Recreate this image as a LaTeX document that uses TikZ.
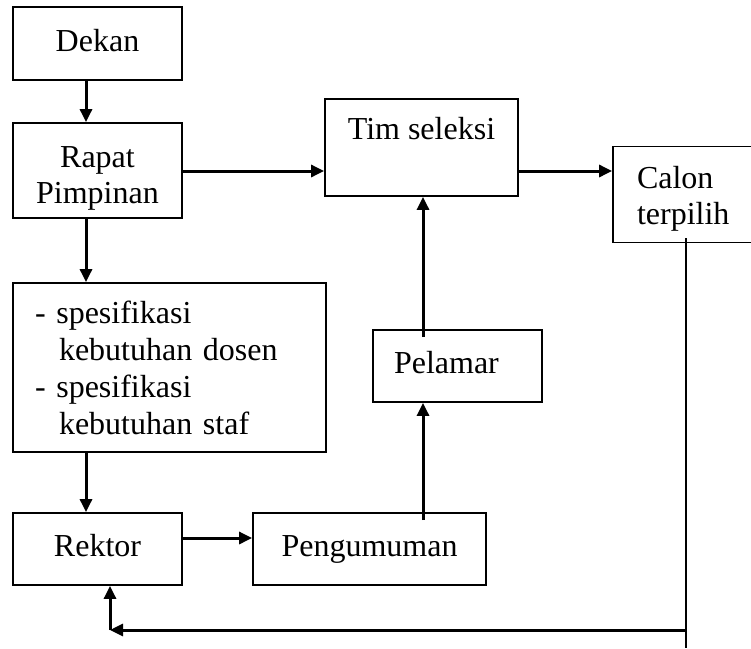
\documentclass[tikz,border=0pt]{standalone}
\usepackage{fontspec}
\setmainfont{Liberation Serif}
\usetikzlibrary{arrows.meta}
\usetikzlibrary{positioning}

\begin{document}
\begin{tikzpicture}[x=1pt, y=-1pt,
    every node/.style={font=\fontsize{32pt}{36pt}\selectfont},
    box/.style={draw, line width=1.8pt, inner sep=0pt},
    oneline/.style={text height=22pt, text depth=7pt},
    flow/.style={line width=3pt, -{Triangle[length=13pt, width=12pt]}},
    feed/.style={line width=2.2pt}]
    \clip (0, 0) rectangle (751, 648);

    \node [box, oneline, minimum width=169pt, minimum height=73pt] (dekan) at (97.5, 43.5) {Dekan};
    \node [box, minimum width=169pt, minimum height=95pt, align=center, text width=160pt,
        text height=22pt, text depth=29pt] (rapat) at (97.5, 170.5) {Rapat\\Pimpinan};
    \node [box, minimum width=313pt, minimum height=169pt, align=left, text width=269pt,
        font=\fontsize{32pt}{37pt}\selectfont] (spek) at (169.5, 367.5)
        {- spesifikasi\\\hspace*{24pt}kebutuhan dosen\\- spesifikasi\\\hspace*{24pt}kebutuhan staf};
    \node [box, oneline, minimum width=169pt, minimum height=72pt] (rektor) at (97.5, 549) {Rektor};
    \node [box, oneline, minimum width=233pt, minimum height=72pt] (umum) at (369.5, 549) {Pengumuman};
    \node [box, oneline, minimum width=169pt, minimum height=72pt, align=left, text width=127pt] (pelamar) at (457.5, 366) {Pelamar};
    \node [box, minimum width=193pt, minimum height=97pt, text height=22pt, text depth=39pt] (tim) at (421.5, 147.5) {Tim seleksi};
    \node [box, minimum width=187pt, minimum height=96pt, align=left, text width=139pt,
        text height=22pt, text depth=35pt] (calon) at (706.5, 194.5) {Calon\\terpilih};

    \coordinate (colA) at (86, 0);
    \coordinate (rowB) at (0, 171);
    \coordinate (rowC) at (0, 538);
    \coordinate (colD) at (423, 0);
    \coordinate (colE) at (686, 0);
    \coordinate (fbstart) at (686, 630);
    \coordinate (fbcorner) at (110, 630);
    \coordinate (calonend) at (686, 648);

    \draw [flow] (dekan.south -| colA) -- (rapat.north -| colA);
    \draw [flow] (rapat.south -| colA) -- (spek.north -| colA);
    \draw [flow] (spek.south -| colA) -- (rektor.north -| colA);
    \draw [flow] (rapat.east |- rowB) -- (tim.west |- rowB);
    \draw [flow] (tim.east |- rowB) -- (calon.west |- rowB);
    \draw [flow] (rektor.east |- rowC) -- (umum.west |- rowC);
    \draw [flow, shorten <=-8pt] (umum.north -| colD) -- (pelamar.south -| colD);
    \draw [flow, shorten <=-8pt] (pelamar.north -| colD) -- (tim.south -| colD);

    \draw [feed, shorten <=-5pt] (calon.south -| colE) -- (calonend);
    \draw [flow] (fbstart) -- (fbcorner);
    \draw [flow] (fbcorner) -- (rektor.south -| fbcorner);
\end{tikzpicture}
\end{document}
